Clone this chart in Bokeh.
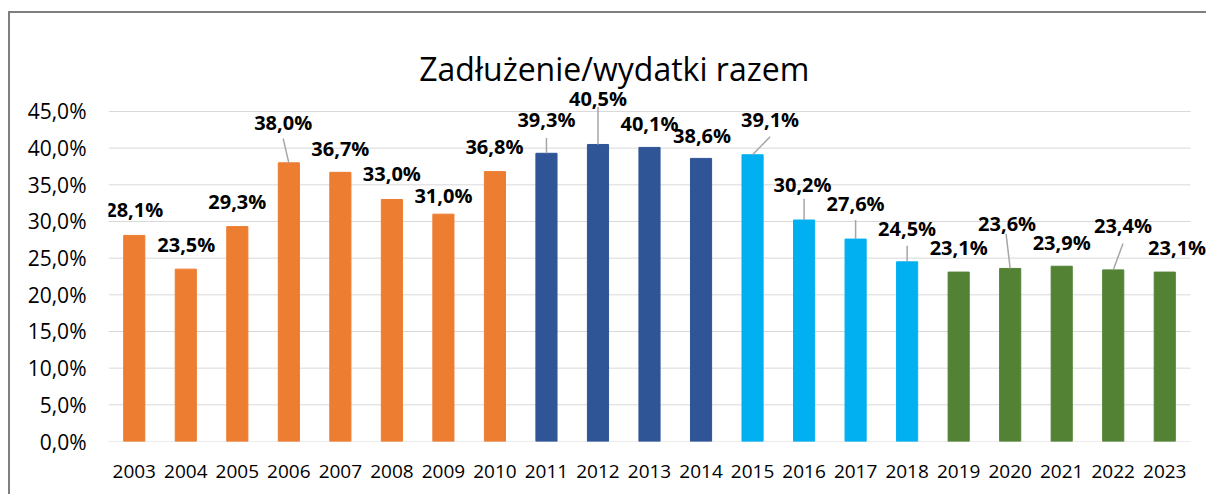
import numpy as np
from bokeh.plotting import figure
from bokeh.models import (ColumnDataSource, Range1d, FixedTicker, LabelSet, Label,
                          CustomJSTickFormatter)
from bokeh.core.properties import value
from bokeh.embed import file_html
from bokeh.resources import INLINE

# ---------------- data ----------------
years = [2003, 2004, 2005, 2006, 2007, 2008, 2009, 2010, 2011, 2012, 2013,
         2014, 2015, 2016, 2017, 2018, 2019, 2020, 2021, 2022, 2023]
values = [28.1, 23.5, 29.3, 38.0, 36.7, 33.0, 31.0, 36.8, 39.3, 40.5, 40.1,
          38.6, 39.1, 30.2, 27.6, 24.5, 23.1, 23.6, 23.9, 23.4, 23.1]
groups = ["A"] * 8 + ["B"] * 4 + ["C"] * 4 + ["D"] * 5
group_colors = {"A": "#ED7D31", "B": "#2F5597", "C": "#00B0F0", "D": "#548235"}
title_text = "Zadłużenie/wydatki razem"
y_ticks = [0, 5, 10, 15, 20, 25, 30, 35, 40, 45]

# ---------------- label layout (positions of data labels, in data units) ----------------
label_x = [0.0, 1.01, 2.0, 2.89, 4.0, 5.0, 6.0, 6.99, 8.0, 9.0, 10.0,
           11.02, 12.34, 12.97, 14.0, 15.0, 16.0, 16.94, 18.0, 19.19, 20.24]
label_y = [31.7, 26.8, 32.7, 43.5, 40.0, 36.5, 33.6, 40.2, 43.9, 46.8, 43.3,
           41.7, 43.9, 35.1, 32.4, 29.0, 26.4, 29.7, 27.1, 29.4, 26.4]
leader_idx = [3, 8, 9, 12, 13, 14, 15, 17, 19]
leader_x0 = [2.89, 8.0, 9.0, 12.34, 13.0, 14.0, 15.0, 16.92, 19.19]
leader_y0 = [41.3, 41.4, 45.6, 41.55, 33.1, 30.2, 26.7, 28.3, 27.0]

xs = list(range(len(years)))
src = ColumnDataSource(dict(
    x=xs, top=values, color=[group_colors[g] for g in groups],
    lx=label_x, ly=label_y,
    txt=[("%.1f%%" % v).replace(".", ",") for v in values],
))
lead = ColumnDataSource(dict(
    x0=leader_x0, y0=leader_y0,
    x1=[xs[i] for i in leader_idx], y1=[values[i] for i in leader_idx],
))
grid = ColumnDataSource(dict(
    x0=[-0.5] * len(y_ticks), x1=[len(years) - 0.5] * len(y_ticks),
    y=y_ticks,
))

p = figure(width=1198, height=483, output_backend="svg", toolbar_location=None,
           x_range=Range1d(-0.5, 20.849), y_range=Range1d(0, 58.36),
           min_border_left=98, min_border_right=0, min_border_top=0,
           min_border_bottom=55, tools="",
           styles={"margin-left": "8px", "margin-top": "11px",
                   "border-left": "2px solid #7F7F7F",
                   "border-top": "2px solid #7F7F7F"})
p.outline_line_color = None
p.background_fill_color = "white"
p.border_fill_color = "white"

# horizontal gridlines at the y ticks, spanning the category area only
p.segment(x0="x0", y0="y", x1="x1", y1="y", line_color="#D9D9D9",
          line_width=1, source=grid, level="underlay")
p.vbar(x="x", top="top", bottom=0, width=0.41, color="color", source=src)
p.segment(x0="x0", y0="y0", x1="x1", y1="y1", line_color="#A6A6A6",
          line_width=1.5, source=lead)

labels = LabelSet(x="lx", y="ly", text="txt", source=src, text_align="center",
                  text_baseline="middle", text_font=value("Open Sans"),
                  text_font_size="20px", text_font_style="bold", text_color="#000000")
p.add_layout(labels)

# axes
p.xgrid.grid_line_color = None
p.ygrid.grid_line_color = None
p.yaxis.ticker = FixedTicker(ticks=y_ticks)
p.yaxis.formatter = CustomJSTickFormatter(code="return tick.toFixed(1).replace('.', ',') + '%';")
p.xaxis.ticker = FixedTicker(ticks=xs)
p.xaxis.major_label_overrides = {i: str(y) for i, y in zip(xs, years)}
for ax in (p.xaxis[0], p.yaxis[0]):
    ax.axis_line_color = None
    ax.major_tick_line_color = None
    ax.minor_tick_line_color = None
    ax.major_tick_in = 0
    ax.major_tick_out = 0
    ax.major_label_text_font = "Open Sans"
    ax.major_label_text_color = "#000000"
p.yaxis.major_label_text_font_size = "21px"
p.yaxis.major_label_standoff = 22
p.xaxis.major_label_text_font_size = "19px"
p.xaxis.major_label_standoff = 23

# chart title (placed above the 45% gridline)
p.add_layout(Label(x=9.316, y=50.92, text=title_text, text_align="center",
                   text_baseline="alphabetic", text_font="Open Sans",
                   text_font_size="32px", text_color="#000000"))

open("out.html", "w").write(file_html(p, INLINE))
